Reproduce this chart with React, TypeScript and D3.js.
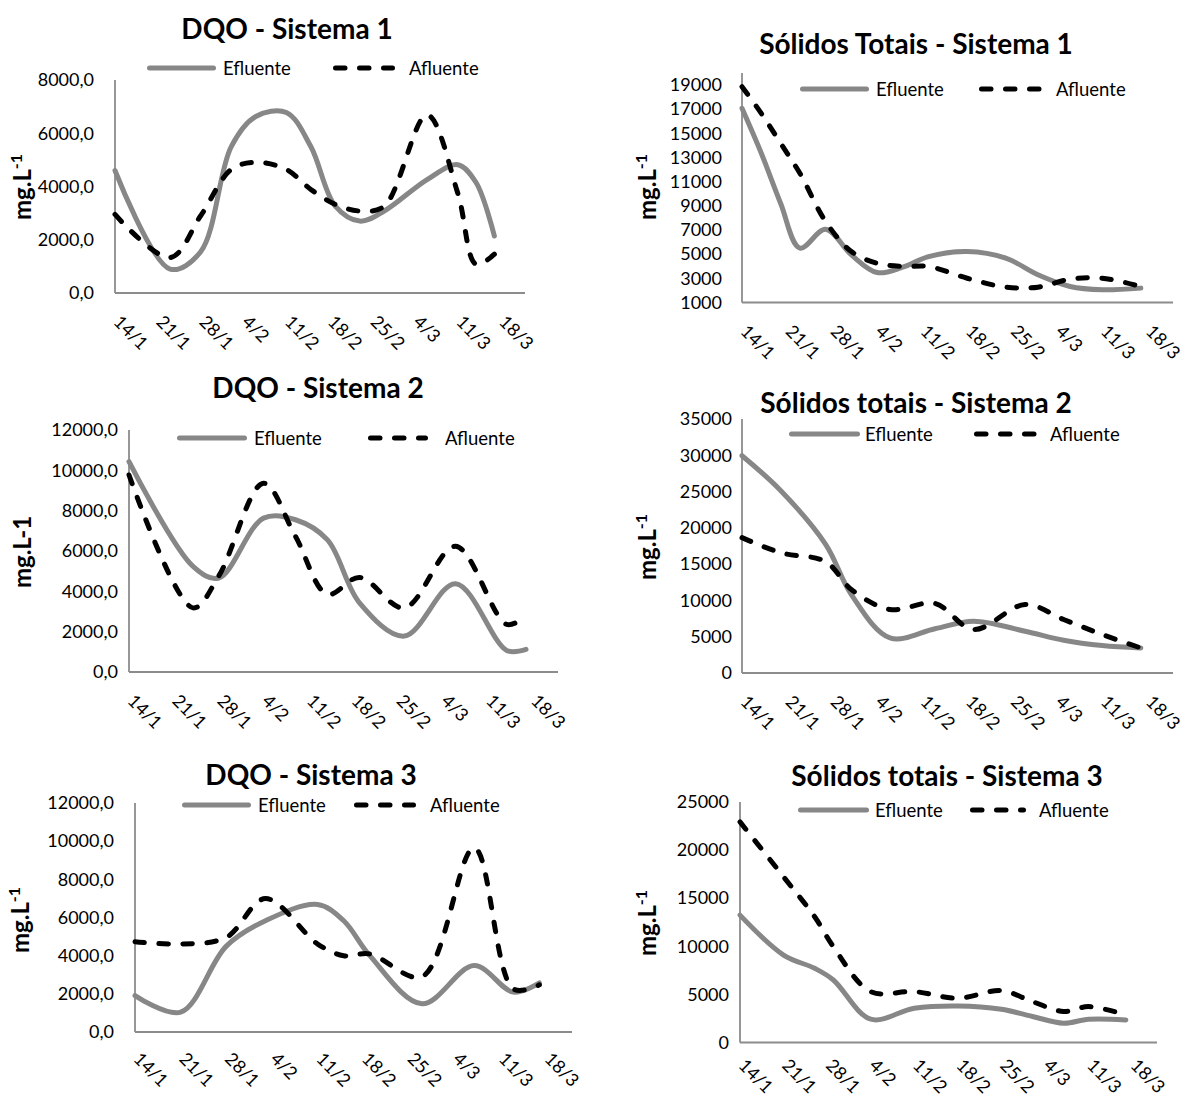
import * as d3 from 'd3'
import { useEffect, useRef } from 'react'

const W = 1186
const H = 1097
const YEAR = 2013
const FONT = 'Lato, "Open Sans", sans-serif'
const EF_COLOR = '#878787'
const AXIS_COLOR = '#8c8c8c'

// x axis: weekly labels, axis runs a few days past the last label
const X_START = '14/1'
const X_END = '22/3'
const WEEK_TICKS = ['14/1', '21/1', '28/1', '4/2', '11/2', '18/2', '25/2', '4/3', '11/3', '18/3']

// DQO - Sistema 1
const dqo1Dates = ['14/1', '23/1', '28/1', '2/2', '6/2', '11/2', '15/2', '19/2', '23/2', '27/2', '6/3', '11/3', '14/3', '17/3']
const dqo1Efluente = [4600, 900, 1550, 5500, 6630, 6780, 5500, 3260, 2700, 3080, 4260, 4820, 4150, 2140]
const dqo1Afluente = [2950, 1330, 2900, 4640, 4910, 4640, 3890, 3330, 3080, 3260, 6690, 3760, 1080, 1460]
const dqo1Ticks = [0, 2000, 4000, 6000, 8000]

// Sólidos Totais - Sistema 1
const st1Dates = ['14/1', '17/1', '20/1', '23/1', '27/1', '31/1', '4/2', '8/2', '12/2', '18/2', '24/2', '1/3', '6/3', '11/3', '17/3']
const st1Efluente = [17070, 13350, 9210, 5500, 7060, 4940, 3480, 3920, 4800, 5220, 4670, 3290, 2320, 2050, 2190]
const st1Afluente = [18860, 16650, 14180, 11690, 7700, 5220, 4250, 3980, 3980, 3010, 2270, 2270, 2930, 3010, 2320]
const st1Ticks = [1000, 3000, 5000, 7000, 9000, 11000, 13000, 15000, 17000, 19000]

// DQO - Sistema 2
const dqo2Dates = ['14/1', '24/1', '28/1', '4/2', '9/2', '14/2', '19/2', '26/2', '6/3', '14/3', '17/3']
const dqo2Efluente = [10430, 5240, 4660, 7630, 7550, 6550, 3430, 1780, 4380, 1070, 1120]
const dqo2Afluente = [9770, 3180, 4750, 9360, 6725, 3850, 4690, 3180, 6230, 2360, 2770]
const dqoTicks = [0, 2000, 4000, 6000, 8000, 10000, 12000]

// Sólidos totais - Sistema 2
const st2Dates = ['14/1', '20/1', '27/1', '31/1', '6/2', '13/2', '19/2', '27/2', '5/3', '11/3', '17/3']
const st2Efluente = [29940, 25150, 17730, 10800, 4840, 6100, 7140, 5760, 4510, 3780, 3450]
const st2Afluente = [18650, 16580, 15340, 11500, 8750, 9580, 5990, 9440, 7370, 5300, 3450]
const st2Ticks = [0, 5000, 10000, 15000, 20000, 25000, 30000, 35000]

// DQO - Sistema 3
const dqo3Dates = ['14/1', '21/1', '28/1', '3/2', '11/2', '15/2', '19/2', '27/2', '7/3', '13/3', '17/3']
const dqo3Efluente = [1910, 1040, 4500, 5830, 6680, 5830, 4000, 1480, 3480, 2090, 2570]
const dqo3Afluente = [4730, 4610, 4960, 6990, 4610, 4000, 4090, 2900, 9650, 2260, 2470]

// Sólidos totais - Sistema 3
const st3Dates = ['14/1', '21/1', '26/1', '29/1', '4/2', '11/2', '18/2', '25/2', '2/3', '7/3', '11/3', '17/3']
const st3Efluente = [13240, 9090, 7710, 6500, 2420, 3560, 3800, 3460, 2700, 2010, 2420, 2350]
const st3Afluente = [22930, 17220, 13070, 9960, 5290, 5290, 4600, 5390, 4250, 3220, 3730, 2870]
const st3Ticks = [0, 5000, 10000, 15000, 20000, 25000]

const parseDay = (s: string) => {
  const [d, m] = s.split('/').map(Number)
  return new Date(Date.UTC(YEAR, m - 1, d))
}
const fmtDecimal = (v: number) => v.toFixed(1).replace('.', ',')
const fmtInt = (v: number) => String(v)

type Layout = {
  x0: number
  x1: number
  yb: number
  yt: number
  title: [number, number]
  legendY: number
  legend: [number, number, number, number, number, number]
  gap: number
  yTitle: [number, number]
  labelDy: number
}

type Panel = {
  title: string
  dates: string[]
  efluente: number[]
  afluente: number[]
  ticks: number[]
  yMin: number
  yRef: number
  yMax: number
  fmt: (v: number) => string
  sup: boolean
  layout: Layout
}

const PANELS: Panel[] = [
  {
    title: 'DQO - Sistema 1',
    dates: dqo1Dates, efluente: dqo1Efluente, afluente: dqo1Afluente, ticks: dqo1Ticks,
    yMin: 0, yRef: 8000, yMax: 8000, fmt: fmtDecimal, sup: true,
    layout: { x0: 115, x1: 525, yb: 293, yt: 80, title: [287, 39], legendY: 68, legend: [147, 216, 223, 333, 395, 409], gap: 21, yTitle: [24, 187], labelDy: 30 },
  },
  {
    title: 'Sólidos Totais - Sistema 1',
    dates: st1Dates, efluente: st1Efluente, afluente: st1Afluente, ticks: st1Ticks,
    yMin: 1000, yRef: 19000, yMax: 20000, fmt: fmtInt, sup: true,
    layout: { x0: 742, x1: 1173, yb: 302.5, yt: 85, title: [916, 54], legendY: 89, legend: [800, 869, 876, 979, 1045, 1056], gap: 20, yTitle: [649, 187], labelDy: 30 },
  },
  {
    title: 'DQO - Sistema 2',
    dates: dqo2Dates, efluente: dqo2Efluente, afluente: dqo2Afluente, ticks: dqoTicks,
    yMin: 0, yRef: 12000, yMax: 12000, fmt: fmtDecimal, sup: false,
    layout: { x0: 129, x1: 558, yb: 672, yt: 430, title: [318, 398], legendY: 438, legend: [177, 247, 254, 368, 428, 445], gap: 11, yTitle: [24, 552], labelDy: 30 },
  },
  {
    title: 'Sólidos totais - Sistema 2',
    dates: st2Dates, efluente: st2Efluente, afluente: st2Afluente, ticks: st2Ticks,
    yMin: 0, yRef: 35000, yMax: 35000, fmt: fmtInt, sup: true,
    layout: { x0: 742, x1: 1173, yb: 673, yt: 419, title: [916, 413], legendY: 434, legend: [789, 860, 865, 974, 1037, 1050], gap: 10, yTitle: [649, 547], labelDy: 30 },
  },
  {
    title: 'DQO - Sistema 3',
    dates: dqo3Dates, efluente: dqo3Efluente, afluente: dqo3Afluente, ticks: dqoTicks,
    yMin: 0, yRef: 12000, yMax: 12000, fmt: fmtDecimal, sup: true,
    layout: { x0: 135, x1: 572, yb: 1032, yt: 803, title: [311, 785], legendY: 805, legend: [182, 251, 258, 354, 416, 430], gap: 21, yTitle: [22, 920], labelDy: 28 },
  },
  {
    title: 'Sólidos totais - Sistema 3',
    dates: st3Dates, efluente: st3Efluente, afluente: st3Afluente, ticks: st3Ticks,
    yMin: 0, yRef: 25000, yMax: 25000, fmt: fmtInt, sup: true,
    layout: { x0: 740, x1: 1157, yb: 1042.5, yt: 802, title: [947, 786], legendY: 810, legend: [798, 869, 875, 970, 1026, 1039], gap: 11, yTitle: [649, 923], labelDy: 24 },
  },
]

const LINE_W = 5
const DASH = '9.5 14.5'

function drawPanel(svg: d3.Selection<SVGSVGElement, unknown, null, undefined>, p: Panel) {
  const L = p.layout
  const x = d3.scaleUtc().domain([parseDay(X_START), parseDay(X_END)]).range([L.x0, L.x1])
  const y = d3.scaleLinear().domain([p.yMin, p.yRef]).range([L.yb, L.yt])
  const g = svg.append('g').attr('font-family', FONT)

  // y tick labels
  const gy = g
    .append('g')
    .attr('transform', `translate(${L.x0},0)`)
    .call(d3.axisLeft(y).tickValues(p.ticks).tickSize(0).tickPadding(L.gap).tickFormat((d) => p.fmt(Number(d))))
  gy.attr('font-family', FONT).attr('font-size', 18)
  gy.select('.domain').remove()
  gy.selectAll('text').attr('fill', '#000')

  // x tick labels, rotated 45deg
  const gx = g
    .append('g')
    .attr('transform', `translate(0,${L.yb})`)
    .call(
      d3
        .axisBottom(x)
        .tickValues(WEEK_TICKS.map(parseDay))
        .tickSize(0)
        .tickFormat((_, i) => WEEK_TICKS[i]),
    )
  gx.attr('font-family', FONT).attr('font-size', 18)
  gx.select('.domain').remove()
  gx.selectAll('text')
    .attr('fill', '#000')
    .attr('y', null)
    .attr('dy', null)
    .attr('text-anchor', 'start')
    .attr('transform', `translate(-3,${L.labelDy}) rotate(45)`)

  // axis lines
  g.append('line')
    .attr('x1', L.x0).attr('x2', L.x0)
    .attr('y1', y(p.yMin)).attr('y2', y(p.yMax))
    .attr('stroke', AXIS_COLOR).attr('stroke-width', 1.8)
  g.append('line')
    .attr('x1', L.x0).attr('x2', L.x1)
    .attr('y1', L.yb).attr('y2', L.yb)
    .attr('stroke', AXIS_COLOR).attr('stroke-width', 1.8)

  // series
  const pts = p.dates.map(parseDay)
  const line = d3
    .line<number>()
    .x((_, i) => x(pts[i]))
    .y((v) => y(v))
    .curve(d3.curveCatmullRom.alpha(0.5))

  g.append('path')
    .attr('d', line(p.efluente) ?? '')
    .attr('fill', 'none')
    .attr('stroke', EF_COLOR)
    .attr('stroke-width', LINE_W)
    .attr('stroke-linecap', 'round')
    .attr('stroke-linejoin', 'round')
  g.append('path')
    .attr('d', line(p.afluente) ?? '')
    .attr('fill', 'none')
    .attr('stroke', '#000')
    .attr('stroke-width', LINE_W)
    .attr('stroke-dasharray', DASH)
    .attr('stroke-linecap', 'round')
    .attr('stroke-linejoin', 'round')

  // legend
  const [e0, e1, et, a0, a1, at] = L.legend
  const ly = L.legendY
  g.append('line')
    .attr('x1', e0 + 2.5).attr('x2', e1 - 2.5).attr('y1', ly).attr('y2', ly)
    .attr('stroke', EF_COLOR).attr('stroke-width', LINE_W).attr('stroke-linecap', 'round')
  g.append('text').attr('x', et).attr('y', ly).attr('dy', '0.36em').attr('font-size', 18.5).text('Efluente')
  g.append('line')
    .attr('x1', a0 + 2.5).attr('x2', a1 - 2.5).attr('y1', ly).attr('y2', ly)
    .attr('stroke', '#000').attr('stroke-width', LINE_W).attr('stroke-linecap', 'round')
    .attr('stroke-dasharray', DASH)
  g.append('text').attr('x', at).attr('y', ly).attr('dy', '0.36em').attr('font-size', 18.5).text('Afluente')

  // title
  g.append('text')
    .attr('x', L.title[0]).attr('y', L.title[1])
    .attr('text-anchor', 'middle')
    .attr('font-size', 28)
    .attr('font-weight', 700)
    .text(p.title)

  // y axis title
  const yt = g
    .append('text')
    .attr('transform', `translate(${L.yTitle[0] + 7},${L.yTitle[1]}) rotate(-90)`)
    .attr('text-anchor', 'middle')
    .attr('font-size', 24)
    .attr('font-weight', 700)
  if (p.sup) {
    yt.append('tspan').text('mg.L')
    yt.append('tspan').attr('dy', -9).attr('font-size', 16).text('-1')
  } else {
    yt.text('mg.L-1')
  }
}

export default function App() {
  const ref = useRef<SVGSVGElement>(null)

  useEffect(() => {
    if (!ref.current) return
    const svg = d3.select(ref.current)
    svg.selectAll('*').remove()
    svg.append('rect').attr('width', W).attr('height', H).attr('fill', '#fff')
    PANELS.forEach((p) => drawPanel(svg, p))
  }, [])

  return <svg ref={ref} width={W} height={H} style={{ position: 'absolute', left: 0, top: 0 }} />
}
